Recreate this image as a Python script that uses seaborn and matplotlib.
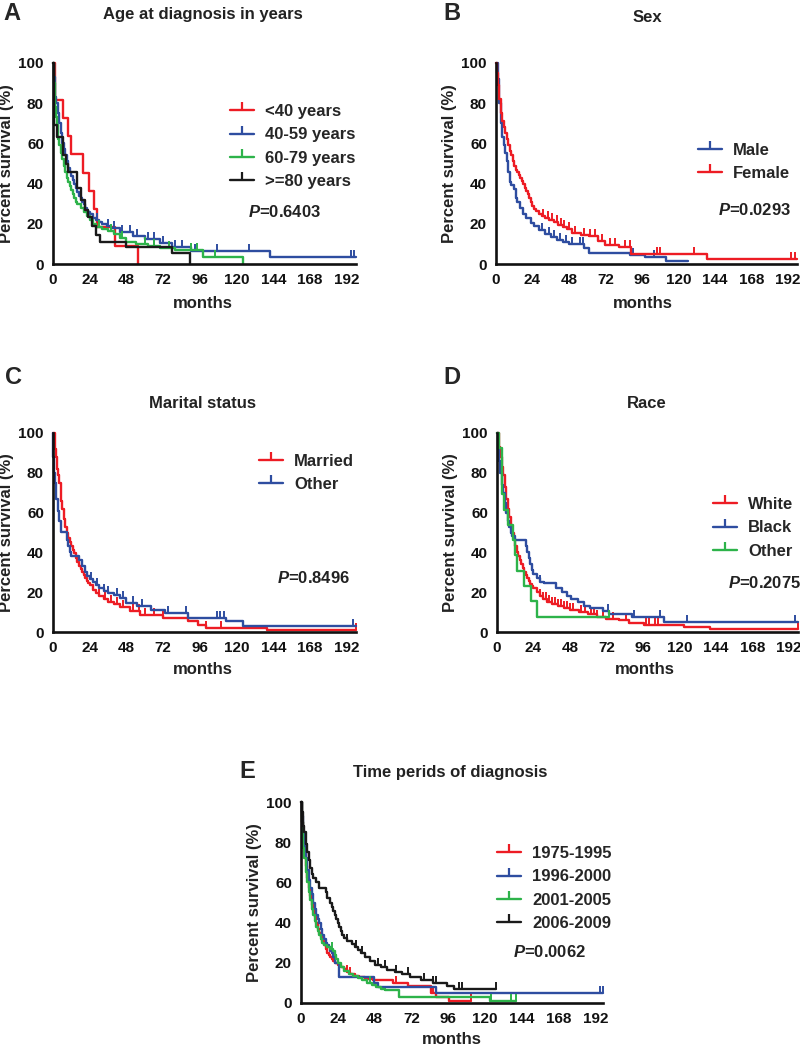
import matplotlib
matplotlib.use("Agg")
import matplotlib.pyplot as plt
import seaborn as sns
import numpy as np
from matplotlib.lines import Line2D

RED = '#ED1C24'
BLUE = '#2E4DA0'
GREEN = '#2DB34A'
BLACK = '#1A1A1A'

# ---------------- Panel A: age at diagnosis ----------------
a_lt40_t = [0, 1.5, 6.5, 10, 12, 19.5, 23.5, 27, 28.5, 40.5, 55.5]
a_lt40_s = [100, 81.8, 72.7, 63.6, 54.5, 45.5, 36.4, 27.3, 18.2, 9.1, 0]
a_lt40_c = []

a_4059_t = [0, 0.5, 1, 1.5, 2, 3, 4, 5, 6, 7, 8, 9, 10, 11, 12, 13, 14, 15, 16, 17, 18, 19, 20, 21, 22, 23, 24,
            26, 28, 30, 32, 35, 38, 44, 52, 60, 70, 78, 90, 142, 198]
a_4059_s = [100, 93, 88, 83, 80, 75, 70, 65, 60, 57, 54, 51, 48, 46, 44, 42, 40, 38, 36, 34, 33, 31, 30, 28, 27, 26, 25,
            23, 22, 21, 20, 19, 18, 16, 14, 12.5, 10.5, 8.5, 6.5, 3.5, 3.5]
a_4059_c = [29, 36, 40, 45, 50, 55, 62, 66, 72, 80, 84, 93, 107, 128, 195, 197]

a_6079_t = [0, 0.5, 1, 1.5, 2, 2.5, 3, 3.5, 4, 5, 6, 7, 8, 9, 10, 11, 12, 13, 14, 15, 16, 18, 20, 22, 24, 26, 28,
            32, 36, 40, 44, 48, 54, 62, 70, 80, 98, 124]
a_6079_s = [100, 90, 84, 78, 73, 69, 65, 62, 59, 55, 52, 49, 46, 43, 41, 39, 37, 35, 33, 31, 30, 28, 26, 24, 22, 20, 18.5,
            17.5, 16.5, 15, 13, 11, 10, 9, 8, 7, 3.3, 0]
a_6079_c = [30, 38, 45, 60, 66, 76, 90, 94, 106]

a_ge80_t = [0, 0.7, 2.5, 6.5, 8.5, 10, 16, 18.5, 21, 23, 25.5, 28, 31, 48, 78, 89.5]
a_ge80_s = [100, 69, 63, 54, 50, 46, 38, 32, 27, 23.5, 19, 14.5, 11, 8.3, 5.5, 0]
a_ge80_c = []

# ---------------- Panel B: sex ----------------
b_male_t = [0, 1, 2, 3, 4, 5, 6, 7, 8, 9, 10, 12, 13, 14, 16, 18, 20, 23, 25, 28, 32, 36, 40, 44, 48, 58, 61,
            88, 98, 112, 126]
b_male_s = [100, 92, 80, 70, 63, 59, 55, 51, 46, 41, 39.5, 37.5, 33, 31, 28, 25, 23, 20.5, 19, 17, 15, 13.5, 12, 11,
            9.8, 8, 5.5, 4.6, 3.3, 1.3, 1.3]
b_male_c = [30, 35, 38, 42, 46, 50, 55, 57, 90, 104]

b_female_t = [0, 0.5, 1, 2, 3, 4, 5, 6, 7, 8, 9, 10, 11, 12, 13, 14, 15, 16, 17, 18, 19, 20, 21, 22, 23, 24, 25,
              26, 28, 30, 32, 35, 38, 41, 44, 47, 50, 56, 61, 67, 72, 81, 89, 139, 198]
b_female_s = [100, 95, 89, 82, 75, 71, 68, 65, 62, 59, 56, 54, 51, 49, 47, 46, 44.5, 43, 41.5, 40, 38, 36.5, 35, 33,
              31, 29, 27.5, 26.5, 25, 24, 23, 22, 21, 19.6, 18.5, 17.5, 15.5, 14.5, 13.8, 11.3, 9.6, 8.3, 4.8, 2.5, 2.5]
b_female_c = [31, 34, 37, 40, 43, 45, 48, 52, 58, 62, 65, 70, 75, 78, 85, 88, 106, 108, 130, 194, 197]

# ---------------- Panel C: marital status ----------------
c_married_t = [0, 1, 2, 2.5, 3, 4, 5, 5.5, 6, 7, 8, 9, 10, 11, 12, 13, 14, 15, 16, 17, 18, 19, 20, 21, 22, 23, 24,
               26, 28, 30, 33, 36, 40, 44, 50, 57, 72, 88, 95, 100, 140, 198]
c_married_s = [100, 92, 88, 82, 79, 75, 70, 66, 62, 57, 53, 50, 47, 45, 43, 41, 39.5, 37, 35, 33, 31.5, 30, 28.5, 27,
               25.5, 24.5, 23.5, 21, 19.5, 18, 16.5, 15, 14, 12.8, 10.4, 8.7, 7, 5.4, 3.5, 2, 1, 1]
c_married_c = [30, 34, 38, 42, 46, 52, 56, 60, 66, 72, 88, 100, 110, 198]

c_other_t = [0, 0.3, 0.7, 1, 2, 3, 4, 5, 9, 10, 11, 12, 17, 19, 21, 22, 24, 26, 28, 30, 33, 36, 40, 44, 48, 55,
             64, 73, 88, 113, 124, 198]
c_other_s = [100, 88, 80, 75, 67, 61, 56, 50.5, 46, 43, 40, 38, 36, 33, 30, 28, 26.5, 25, 23.5, 22, 20.5, 19.5, 18.5,
             17, 14.6, 12.9, 11.2, 9.5, 7, 5.4, 3, 3]
c_other_c = [25, 29, 33, 36, 42, 46, 52, 58, 75, 87, 107, 109, 112, 196]

# ---------------- Panel D: race ----------------
d_white_t = [0, 1, 2, 3, 4, 5, 6, 7, 8, 9, 10, 11, 12, 13, 14, 15, 16, 17, 18, 19, 20, 21, 22, 23, 24, 26, 28,
             30, 33, 36, 40, 44, 48, 54, 60, 66, 72, 80, 87, 97, 123, 140, 198]
d_white_s = [100, 93, 88, 83, 79, 73, 67, 62, 58, 54, 50, 46.5, 43, 40, 38, 36, 34, 32, 30, 28.5, 27, 25.5, 24, 23,
             22, 20, 18, 16.5, 15, 14, 13, 12, 11, 10, 9, 7.5, 6.5, 5.8, 4.5, 3.3, 2.5, 1.7, 1.7]
d_white_c = [28, 30, 32, 34, 36, 38, 40, 42, 44, 46, 48, 50, 55, 58, 62, 64, 66, 70, 76, 85, 98, 100, 104, 106, 198]

d_black_t = [0, 0.5, 1, 2, 3, 4, 5, 6, 7, 8, 9, 10, 12, 19, 20, 21, 22, 23, 24, 26, 28, 31, 39, 43, 46, 49, 53,
             57, 61, 70, 74, 89, 110, 198]
d_black_s = [100, 92, 86, 80, 74, 70, 65, 60, 56, 53, 50, 48, 46, 43, 40, 37, 34, 31, 29, 27, 25, 24.5, 22, 20, 18,
             16.5, 15, 13, 12, 10.5, 9, 7.5, 5, 5]
d_black_c = [3, 28, 73, 90, 107, 125, 196]

d_other_t = [0, 1.5, 3, 4.5, 7, 10.5, 11.8, 13, 17.5, 22.5, 26, 74]
d_other_s = [100, 92.3, 69.2, 61.5, 53.8, 46.2, 38.5, 30.8, 23.1, 15.4, 7.7, 7.7]
d_other_c = [74]

# ---------------- Panel E: time periods ----------------
e_7595_t = [0, 0.5, 1, 2, 3, 4, 5, 6, 7, 8, 9, 10, 11, 12, 13, 14, 15, 16, 17, 18, 19, 20, 21, 22, 24, 26, 28,
            30, 32, 35, 38, 42, 47, 60, 70, 84.5, 88, 96.5, 110.7]
e_7595_s = [100, 90, 82, 75, 68, 62, 57, 53, 49, 46, 43, 40, 37, 35, 33, 31, 29, 27, 25, 24, 23, 22, 21, 20, 19,
            18, 17, 15.5, 14.5, 13.5, 13, 12, 11.3, 10, 8.3, 5, 3, 1, 1]
e_7595_c = [30, 32, 62, 86, 110.7]

e_9600_t = [0, 0.5, 1, 2, 3, 4, 5, 6, 7, 8, 9, 10, 11, 12, 13, 14, 15, 16, 17, 18, 19, 20, 21, 22, 24.5, 47.5,
            50.5, 88, 197]
e_9600_s = [100, 93, 85, 78, 72, 66, 61, 57, 54, 50, 47, 44, 42, 40, 37, 34, 32, 30, 29, 28, 26, 25, 23, 20, 13,
            10, 8, 5, 5]
e_9600_c = [195, 197]

e_0105_t = [0, 0.5, 1, 1.5, 2, 3, 4, 5, 6, 7, 8, 9, 10, 11, 12, 13, 14, 15, 17, 19, 21, 22, 23, 24, 26, 28, 31,
            34, 37, 40, 43, 46, 49, 52, 55, 64, 123.5, 140]
e_0105_s = [100, 90, 83, 77, 72, 65, 60, 55, 51, 47, 44, 41, 38, 36, 34, 32, 30, 29, 28, 27, 26, 24, 22, 20, 18,
            16, 14.5, 13.5, 12.5, 11.5, 10, 9, 8, 7, 6.3, 3, 1, 1]
e_0105_c = [20, 45, 124, 137, 140]

e_0609_t = [0, 0.5, 1, 1.5, 2, 3, 4, 5, 6, 7, 8, 10, 12, 16, 17, 19, 20, 21, 22, 23, 24, 25, 26, 27, 28, 30, 33,
            35, 37, 39, 42, 45, 48, 52, 56, 61, 66, 71, 78, 86, 95, 100, 127]
e_0609_s = [100, 95, 91, 88, 85, 79, 75, 71, 67, 64, 62, 60, 57, 55, 52, 50, 48, 46, 44, 42, 40, 38, 36, 34, 32.5,
            31, 29.5, 28, 26.5, 25, 23, 21, 19, 18, 16.6, 15.5, 14.6, 13, 11.3, 10, 8.3, 7, 7]
e_0609_c = [30, 36, 40, 50, 55, 62, 70, 80, 86, 88, 103, 105, 127]

W, H = 800, 1048


def fx(px):
    return px / W


def fy(py):
    return 1 - py / H


def km_panel(ax, curves, xmax):
    for t, s, cens, color, lab in curves:
        sns.lineplot(x=t, y=s, ax=ax, color=color, lw=1.7, drawstyle='steps-post',
                     estimator=None, sort=False, label=lab, clip_on=False, legend=False)
        if cens:
            tt = np.asarray(t)
            ss = np.asarray(s)
            idx = np.searchsorted(tt, cens, side='right') - 1
            ax.plot(cens, ss[idx], ls='none', marker=2, ms=5, mew=1.4, color=color, clip_on=False)
    ax.set_xlim(0, xmax)
    ax.set_ylim(0, 100)
    ax.set_xticks(range(0, 193, 24))
    ax.set_yticks(range(0, 101, 20))
    ax.set_xlabel('')
    ax.set_ylabel('Percent survival (%)', fontsize=12, fontweight='bold', labelpad=3, color='#222222')
    for side in ['top', 'right']:
        ax.spines[side].set_visible(False)
    for side in ['left', 'bottom']:
        ax.spines[side].set_linewidth(1.9)
        ax.spines[side].set_color('#111111')
    ax.tick_params(direction='out', length=5, width=1.6, labelsize=11, pad=1.5, colors='#111111')
    for lbl in ax.get_xticklabels() + ax.get_yticklabels():
        lbl.set_fontweight('bold')


def add_legend(ax, curves, left_px, center_px):
    handles = [Line2D([], [], color=c[3], lw=1.7, marker=2, ms=6, mew=1.6) for c in curves]
    labels = [c[4] for c in curves]
    ax.legend(handles, labels, loc='center left', bbox_to_anchor=(fx(left_px), fy(center_px)),
              bbox_transform=ax.figure.transFigure, frameon=False, borderpad=0, borderaxespad=0,
              handlelength=1.45, handletextpad=0.65, labelspacing=0.5, numpoints=1,
              prop={'weight': 'bold', 'size': 12})


sns.set_theme(style="white")
plt.rcParams['font.family'] = ['Liberation Sans', 'DejaVu Sans']
plt.rcParams['mathtext.fontset'] = 'custom'
plt.rcParams['mathtext.it'] = 'Liberation Sans:italic:bold'
plt.rcParams['mathtext.rm'] = 'Liberation Sans:bold'

fig = plt.figure(figsize=(8, 10.48), dpi=100)

panels = [
    dict(letter='A', title='Age at diagnosis in years', rect=(53, 63, 303, 201), xmax=198,
         letter_xy=(12, 14), title_xy=(203, 15), months_xy=(203, 304), p='0.6403', p_xy=(248, 212),
         leg=(230, 146.5),
         curves=[(a_lt40_t, a_lt40_s, a_lt40_c, RED, '<40 years'),
                 (a_4059_t, a_4059_s, a_4059_c, BLUE, '40-59 years'),
                 (a_6079_t, a_6079_s, a_6079_c, GREEN, '60-79 years'),
                 (a_ge80_t, a_ge80_s, a_ge80_c, BLACK, '>=80 years')]),
    dict(letter='B', title='Sex', rect=(496, 63, 301, 201), xmax=198,
         letter_xy=(452, 14), title_xy=(647, 18), months_xy=(643, 304), p='0.0293', p_xy=(718, 210),
         leg=(698, 162),
         curves=[(b_male_t, b_male_s, b_male_c, BLUE, 'Male'),
                 (b_female_t, b_female_s, b_female_c, RED, 'Female')]),
    dict(letter='C', title='Marital status', rect=(53, 433, 303, 199), xmax=198,
         letter_xy=(13, 377), title_xy=(203, 403), months_xy=(203, 670), p='0.8496', p_xy=(277, 578),
         leg=(259, 473),
         curves=[(c_married_t, c_married_s, c_married_c, RED, 'Married'),
                 (c_other_t, c_other_s, c_other_c, BLUE, 'Other')]),
    dict(letter='D', title='Race', rect=(497, 433, 301, 199), xmax=198,
         letter_xy=(452, 377), title_xy=(647, 403), months_xy=(645, 670), p='0.2075', p_xy=(728, 583),
         leg=(713, 528),
         curves=[(d_white_t, d_white_s, d_white_c, RED, 'White'),
                 (d_black_t, d_black_s, d_black_c, BLUE, 'Black'),
                 (d_other_t, d_other_s, d_other_c, GREEN, 'Other')]),
    dict(letter='E', title='Time perids of diagnosis', rect=(301, 802, 302, 201), xmax=197,
         letter_xy=(247, 772), title_xy=(450, 773), months_xy=(452, 1040), p='0.0062', p_xy=(513, 952),
         leg=(497, 888.5),
         curves=[(e_7595_t, e_7595_s, e_7595_c, RED, '1975-1995'),
                 (e_9600_t, e_9600_s, e_9600_c, BLUE, '1996-2000'),
                 (e_0105_t, e_0105_s, e_0105_c, GREEN, '2001-2005'),
                 (e_0609_t, e_0609_s, e_0609_c, BLACK, '2006-2009')]),
]

for p in panels:
    l, t, w, h = p['rect']
    ax = fig.add_axes([fx(l), fy(t + h), w / W, h / H])
    km_panel(ax, p['curves'], p['xmax'])
    add_legend(ax, p['curves'], *p['leg'])
    fig.text(fx(p['letter_xy'][0]), fy(p['letter_xy'][1]), p['letter'], fontsize=17, fontweight='bold',
             ha='center', va='center')
    fig.text(fx(p['title_xy'][0]), fy(p['title_xy'][1]), p['title'], fontsize=12, fontweight='bold',
             ha='center', va='center', color='#222222')
    fig.text(fx(p['months_xy'][0]), fy(p['months_xy'][1]), 'months', fontsize=12, fontweight='bold',
             ha='center', va='center', color='#222222')
    fig.text(fx(p['p_xy'][0]), fy(p['p_xy'][1]), r'$\mathit{P}$=' + p['p'], fontsize=12, fontweight='bold',
             ha='left', va='center', color='#222222')

fig.savefig('out.png', dpi=100)
